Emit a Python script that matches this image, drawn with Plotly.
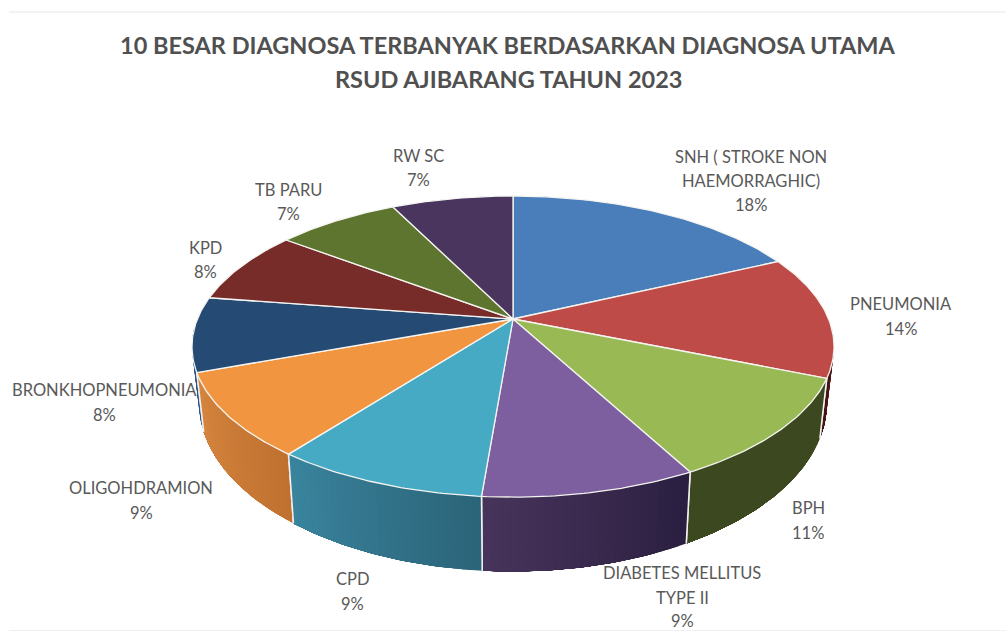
import math
import plotly.graph_objects as go

# Data (order: clockwise from 12 o'clock)
categories = ["SNH ( STROKE NON HAEMORRAGHIC)", "PNEUMONIA", "BPH", "DIABETES MELLITUS TYPE II", "CPD",
              "OLIGOHDRAMION", "BRONKHOPNEUMONIA", "KPD", "TB PARU", "RW SC"]
values = [18.0, 13.2, 11.0, 9.1, 9.1, 9.0, 8.0, 7.9, 7.4, 7.3]
label_lines = [["SNH ( STROKE NON", "HAEMORRAGHIC)", "18%"], ["PNEUMONIA", "14%"], ["BPH", "11%"],
               ["DIABETES MELLITUS", "TYPE II", "9%"], ["CPD", "9%"], ["OLIGOHDRAMION", "9%"],
               ["BRONKHOPNEUMONIA", "8%"], ["KPD", "8%"], ["TB PARU", "7%"], ["RW SC", "7%"]]
label_x = [751, 901, 808, 682, 352, 141, 104, 205, 288, 418]
label_y = [[157, 181, 205], [304, 329], [508, 533], [573, 598, 621], [579, 604], [488, 513],
           [390, 415], [248, 272], [190, 214], [156, 180]]

top_colors = ["#4A7EBB", "#BE4B48", "#98B954", "#7D5FA0", "#46AAC4", "#F29541", "#254A74", "#772C2A", "#5E7530", "#4A355E"]
wall_left = [None, (70, 20, 20), (60, 72, 31), (72, 52, 92), (58, 132, 158), (214, 134, 62), (45, 85, 135), None, None, None]
wall_right = [None, (90, 25, 25), (60, 72, 31), (42, 31, 64), (42, 100, 120), (192, 113, 48), (45, 85, 135), None, None, None]

# Projection of the tilted disc
CX, CY = 513, 319
A, B, C = 315.6, 145.5, 0.183
X_SCALE, Y_SCALE, DROP = 0.978, 1.12, 53
LABEL_COLOR = "#595959"


def rim(pct):
    t = pct / 100 * 2 * math.pi
    u, v = math.sin(t), math.cos(t)
    d = 1 + C * v
    return CX + A * u / d, CY - B * v / d


def low(x, y):
    return CX + X_SCALE * (x - CX), CY + Y_SCALE * (y - CY) + DROP


def arc(p0, p1, step=0.2):
    n = max(2, int((p1 - p0) / step) + 1)
    return [p0 + (p1 - p0) * i / (n - 1) for i in range(n)]


fig = go.Figure()
bounds = [0]
for val in values:
    bounds.append(bounds[-1] + val)


def poly(xs, ys, color, line_color, line_width):
    fig.add_trace(go.Scatter(x=xs, y=ys, mode="lines", fill="toself", fillcolor=color,
                             line=dict(color=line_color, width=line_width), hoverinfo="skip", showlegend=False))


# Side walls: outer slices first, nearest last. Painted in overlapping steps for a smooth shade.
wall_order = [1, 6, 2, 5, 3, 4]
for i in wall_order:
    p0, p1 = max(bounds[i], 26.0), min(bounds[i + 1], 74.0)
    strips = 24
    for s in range(strips):
        a = p0 + (p1 - p0) * s / strips
        f = (s + 0.5) / strips  # f = 0 is the right end on screen, 1 the left end
        c = tuple(round(r + (l - r) * f) for l, r in zip(wall_left[i], wall_right[i]))
        col = "rgb(%d,%d,%d)" % c
        up = [rim(p) for p in arc(a, p1)]
        dn = [low(*q) for q in up]
        pts = up + dn[::-1] + [up[0]]
        poly([q[0] for q in pts], [q[1] for q in pts], col, col, 0)
    # white seam at the slice's front edges
    for p in (p0, p1):
        if 26.5 < p < 73.5:
            u = rim(p)
            d = low(*u)
            fig.add_trace(go.Scatter(x=[u[0], d[0]], y=[u[1], d[1]], mode="lines",
                                     line=dict(color="#F2F2F2", width=1.5), hoverinfo="skip", showlegend=False))

# Top face
for i, col in enumerate(top_colors):
    pts = [(CX, CY)] + [rim(p) for p in arc(bounds[i], bounds[i + 1])] + [(CX, CY)]
    poly([q[0] for q in pts], [q[1] for q in pts], col, "#F4F4F0", 1.3)

# Labels
annotations = []
for lines, x, ys in zip(label_lines, label_x, label_y):
    for text, y in zip(lines, ys):
        annotations.append(dict(x=x, y=y, text=text, showarrow=False, xanchor="center", yanchor="middle",
                                font=dict(family="Lato", size=16.5, color=LABEL_COLOR)))
for text, y in [("10 BESAR DIAGNOSA TERBANYAK BERDASARKAN DIAGNOSA UTAMA", 45),
                ("RSUD AJIBARANG TAHUN 2023", 79)]:
    annotations.append(dict(x=508, y=y, text="<b>%s</b>" % text, showarrow=False, xanchor="center", yanchor="middle",
                            font=dict(family="Lato", size=23.5, color="#505050")))

fig.update_layout(
    width=1006, height=632, margin=dict(l=0, r=0, t=0, b=0),
    paper_bgcolor="white", plot_bgcolor="white",
    xaxis=dict(range=[0, 1006], visible=False, fixedrange=True),
    yaxis=dict(range=[632, 0], visible=False, fixedrange=True),
    showlegend=False, annotations=annotations,
    shapes=[dict(type="line", x0=9, x1=1006, y0=12, y1=12, line=dict(color="#E8E8E8", width=1)),
            dict(type="line", x0=9, x1=1006, y0=630.5, y1=630.5, line=dict(color="#F0F0F0", width=1))],
)
fig.write_html("out.html", config={"displayModeBar": False},
               post_script="document.body.style.margin='0';document.body.style.overflow='hidden';")
